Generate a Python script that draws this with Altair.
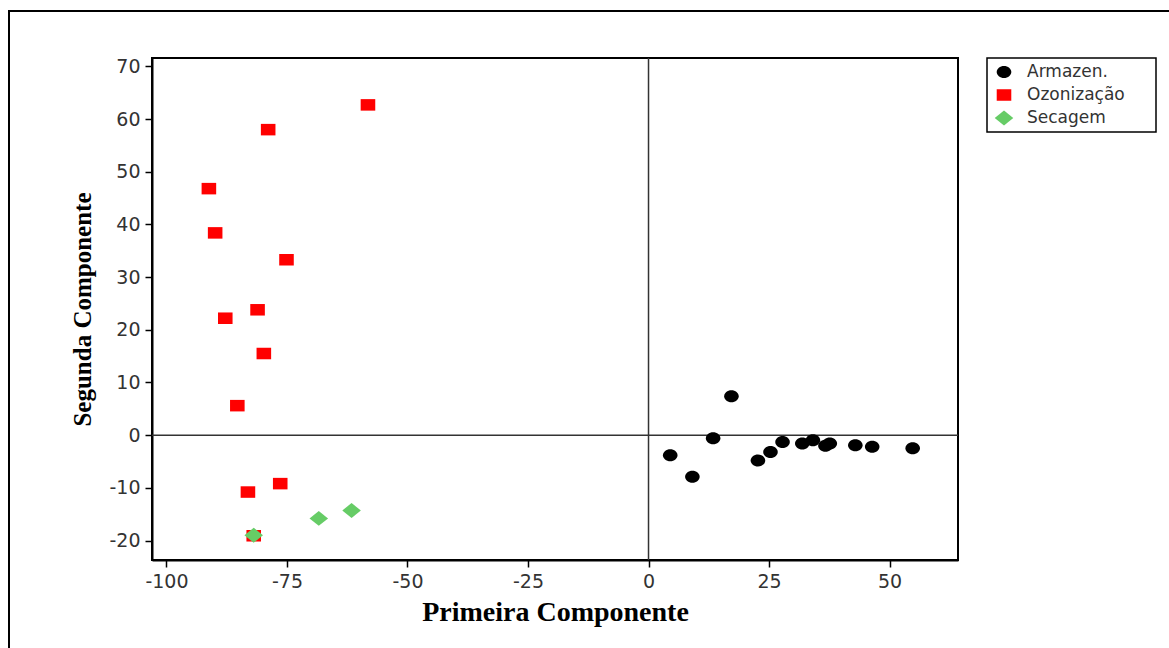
import altair as alt
import pandas as pd

groups = ["Armazen.", "Ozonização", "Secagem"]
group_colors = ["#000000", "#ff0000", "#66cc66"]

armazen_x = [4.5, 9.1, 13.4, 17.2, 22.7, 25.3, 27.8, 31.9, 34.1, 36.7, 37.6, 42.9, 46.4, 54.8]
armazen_y = [-3.8, -7.9, -0.6, 7.4, -4.8, -3.2, -1.3, -1.6, -0.95, -2.0, -1.6, -1.9, -2.2, -2.5]

ozon_x = [-58.2, -78.9, -91.2, -89.9, -75.1, -81.1, -87.8, -79.8, -85.3, -83.1, -76.4, -81.9]
ozon_y = [62.7, 58.0, 46.8, 38.4, 33.3, 23.8, 22.2, 15.5, 5.6, -10.8, -9.2, -19.1]

sec_x = [-81.9, -68.4, -61.6]
sec_y = [-19.0, -15.8, -14.3]

x_ticks = [-100, -75, -50, -25, 0, 25, 50]
y_ticks = [-20, -10, 0, 10, 20, 30, 40, 50, 60, 70]

rows = []
for g, xs, ys in zip(groups, [armazen_x, ozon_x, sec_x], [armazen_y, ozon_y, sec_y]):
    for xv, yv in zip(xs, ys):
        rows.append({"grupo": g, "x": xv, "y": yv})
df = pd.DataFrame(rows)

ellipse = "M-0.81,0A0.81,0.67,0,1,0,0.81,0A0.81,0.67,0,1,0,-0.81,0Z"
rect = "M-0.81,-0.64L0.81,-0.64L0.81,0.64L-0.81,0.64Z"
diamond = "M-1.03,0L0,-0.83L1.03,0L0,0.83Z"

x_scale = alt.Scale(domain=[-103, 64.2], nice=False, zero=False)
y_scale = alt.Scale(domain=[-23.7, 71.6], nice=False, zero=False)

legend = alt.Legend(
    title=None, orient="none", legendX=835, legendY=0,
    padding=5, symbolOffset=3, labelOffset=14,
    rowPadding=6, labelFont="DejaVu Sans", labelFontSize=17, labelColor="#333333",
    symbolSize=324, symbolStrokeWidth=0,
)

minus_fix = "replace(datum.label, '\u2212', '-')"

points = alt.Chart(df).mark_point(filled=True, size=324, opacity=1, strokeWidth=0).encode(
    x=alt.X("x:Q", scale=x_scale,
            axis=alt.Axis(values=x_ticks, title="Primeira Componente", titleFontSize=28,
                          titlePadding=7, labelExpr=minus_fix)),
    y=alt.Y("y:Q", scale=y_scale,
            axis=alt.Axis(values=y_ticks, title="Segunda Componente", titleFontSize=25,
                          titlePadding=13, labelExpr=minus_fix)),
    color=alt.Color("grupo:N", scale=alt.Scale(domain=groups, range=group_colors), legend=legend),
    shape=alt.Shape("grupo:N", scale=alt.Scale(domain=groups, range=[ellipse, rect, diamond]), legend=legend),
    order=alt.Order("idx:Q"),
).transform_window(idx="row_number()")

one = pd.DataFrame({"a": [0]})

frame = alt.Chart(one).mark_rect(fill=None, stroke="black", strokeWidth=2).encode(
    x=alt.value(-143), x2=alt.value(1200), y=alt.value(-47), y2=alt.value(800)
)

legend_box = alt.Chart(one).mark_rect(fill="white", stroke="black", strokeWidth=1.5).encode(
    x=alt.value(835), x2=alt.value(1004), y=alt.value(0), y2=alt.value(74)
)

vrule = alt.Chart(one).mark_rule(color="#333333", strokeWidth=1.5).encode(
    x=alt.datum(0, scale=x_scale)
)
hrule = alt.Chart(one).mark_rule(color="#333333", strokeWidth=1.5).encode(
    y=alt.datum(0, scale=y_scale)
)

chart = alt.layer(frame, legend_box, vrule, hrule, points).properties(
    width=806, height=502,
    autosize=alt.AutoSizeParams(type="none"),
    padding={"left": 152, "top": 58, "right": 211, "bottom": 88},
).configure_view(stroke="black", strokeWidth=2).configure_axis(
    grid=False, domainColor="black", domainWidth=2, tickColor="black", tickWidth=1.5,
    tickSize=7, labelFont="DejaVu Sans", labelFontSize=19, labelColor="#333333",
    labelPadding=5, titleFont="Liberation Serif", titleFontWeight="bold", titleColor="black",
)

chart.save("out.html", embed_options={"renderer": "svg", "actions": False})
